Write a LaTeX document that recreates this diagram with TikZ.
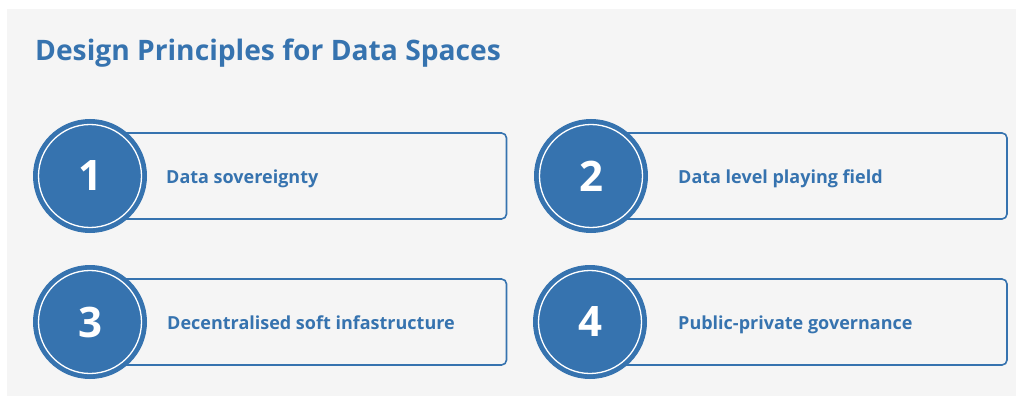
\documentclass[tikz,border=0pt]{standalone}
\usepackage{fontspec}
\setmainfont{Open Sans}
\usepackage{tikz}

\definecolor{dsblue}{RGB}{54,115,175}
\definecolor{dsgray}{RGB}{245,245,245}

\begin{document}
\begin{tikzpicture}[x=1pt,y=-1pt]
	\useasboundingbox (0,0) rectangle (1016,398);
	\fill[dsgray] (7,9) rectangle (1016,396);
	
	\node[anchor=base west, text=dsblue, font=\bfseries\fontsize{28.2}{33}\selectfont, inner sep=0] (title) at (35,61) {Design Principles for Data Spaces};
	
	\begin{scope}[every node/.style={draw=dsblue,line width=1.6pt,rounded corners=5pt,minimum height=86pt,inner sep=0}]
		\node[minimum width=416pt] (B1) at (298.5,176) {};
		\node[minimum width=416pt] (B2) at (799,176) {};
		\node[minimum width=416pt] (B3) at (298.5,322) {};
		\node[minimum width=416pt] (B4) at (799,322) {};
	\end{scope}
	
	\begin{scope}[every node/.style={anchor=base west,text=dsblue,font=\bfseries\fontsize{18}{21}\selectfont,inner sep=0}]
		\node (T1) at (166,183) {Data sovereignty};
		\node (T2) at (678,183) {Data level playing field};
		\node (T3) at (167,329) {Decentralised soft infastructure};
		\node (T4) at (678,329) {Public-private governance};
	\end{scope}
	
	\begin{scope}[every node/.style={circle,fill=dsblue,minimum size=114pt,inner sep=0,text=white,font=\bfseries\fontsize{42}{50}\selectfont}]
		\node (C1) at (90,176) {1};
		\node (C2) at (591,176) {2};
		\node (C3) at (90,322) {3};
		\node (C4) at (590,322) {4};
	\end{scope}
	
	\foreach \c in {C1,C2,C3,C4}
		\draw[white,line width=1.3pt] (\c.center) circle (51.5pt);
\end{tikzpicture}
\end{document}
